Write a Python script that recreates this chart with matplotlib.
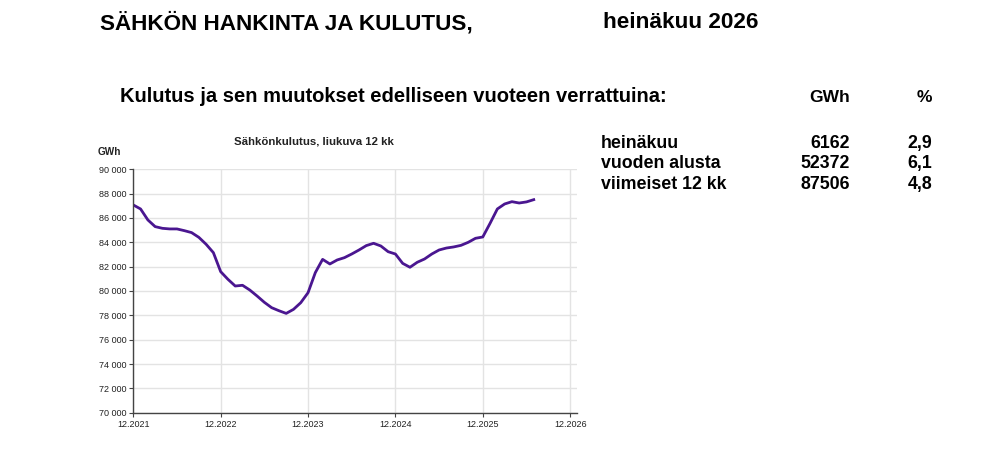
import matplotlib
matplotlib.use("Agg")
import matplotlib.pyplot as plt
from matplotlib.ticker import FuncFormatter
import numpy as np

# liukuva 12 kk kulutus, GWh, 12.2021 - 7.2026
kulutus = [87070, 86740, 85840, 85290, 85150, 85100, 85100, 84960, 84800, 84410,
           83840, 83150, 81590, 80960, 80410, 80470, 80080, 79590, 79070, 78630,
           78380, 78160, 78490, 79040, 79860, 81510, 82600, 82220, 82550, 82740,
           83040, 83370, 83730, 83920, 83700, 83230, 83040, 82270, 81950, 82360,
           82630, 83040, 83370, 83530, 83620, 83750, 84000, 84330, 84440, 85560,
           86740, 87150, 87340, 87230, 87320, 87506]
x_labels = ["12.2021", "12.2022", "12.2023", "12.2024", "12.2025", "12.2026"]

rivit = ["heinäkuu", "vuoden alusta", "viimeiset 12 kk"]
gwh = ["6162", "52372", "87506"]
muutos = ["2,9", "6,1", "4,8"]

head_font = ["Liberation Sans", "DejaVu Sans"]
chart_font = ["Liberation Sans", "DejaVu Sans"]

fig = plt.figure(figsize=(10, 4.65), dpi=100)
fig.patch.set_facecolor("white")

# otsikot
fig.text(0.100, 1 - 23 / 465, "SÄHKÖN HANKINTA JA KULUTUS,", family=head_font,
         fontsize=16.2, fontweight="bold", va="center", ha="left")
fig.text(0.603, 1 - 23 / 465, "heinäkuu 2026", family=head_font,
         fontsize=16.2, fontweight="bold", va="center", ha="left")
fig.text(0.120, 1 - 97 / 465, "Kulutus ja sen muutokset edelliseen vuoteen verrattuina:",
         family=head_font, fontsize=14.5, fontweight="bold", va="center", ha="left")
fig.text(0.850, 1 - 97 / 465, "GWh", family=head_font, fontsize=12.5,
         fontweight="bold", va="center", ha="right")
fig.text(0.932, 1 - 97 / 465, "%", family=head_font, fontsize=12.5,
         fontweight="bold", va="center", ha="right")

row_y = [143, 163, 184]
for nimi, g, p, yy in zip(rivit, gwh, muutos, row_y):
    fig.text(0.601, 1 - yy / 465, nimi, family=head_font, fontsize=12.8,
             fontweight="bold", va="center", ha="left")
    fig.text(0.850, 1 - yy / 465, g, family=head_font, fontsize=12.8,
             fontweight="bold", va="center", ha="right")
    fig.text(0.932, 1 - yy / 465, p, family=head_font, fontsize=12.8,
             fontweight="bold", va="center", ha="right")

# kaavio
ax = fig.add_axes([0.1333, 1 - 412.7 / 465, 0.4434, (412.7 - 169.3) / 465])
months = np.arange(len(kulutus))
ax.plot(months, kulutus, color="#4a1690", linewidth=2.0, solid_joinstyle="round")

ax.set_xlim(0, 60.9)
ax.set_ylim(70000, 90000)
ax.set_xticks(np.arange(0, 61, 12))
ax.set_xticklabels(x_labels)
ax.set_yticks(np.arange(70000, 90001, 2000))
ax.yaxis.set_major_formatter(FuncFormatter(lambda v, p: f"{int(v):,}".replace(",", " ")))
ax.grid(True, color="#e3e3e3", linewidth=1)
ax.set_axisbelow(True)
for s in ["top", "right"]:
    ax.spines[s].set_visible(False)
for s in ["left", "bottom"]:
    ax.spines[s].set_color("#444444")
    ax.spines[s].set_linewidth(1)
ax.tick_params(axis="both", length=3, width=0.8, color="#444444", labelsize=6.5,
               pad=2)
for lab in ax.get_xticklabels() + ax.get_yticklabels():
    lab.set_family(chart_font)
    lab.set_color("#222222")

fig.text(0.314, 1 - 141 / 465, "Sähkönkulutus, liukuva 12 kk", family=chart_font,
         fontsize=8.2, fontweight="bold", ha="center", va="center", color="#222222")
fig.text(0.098, 1 - 152 / 465, "GWh", family=chart_font, fontsize=7.2,
         fontweight="bold", ha="left", va="center", color="#222222")

fig.savefig("out.png", dpi=100, facecolor="white")
